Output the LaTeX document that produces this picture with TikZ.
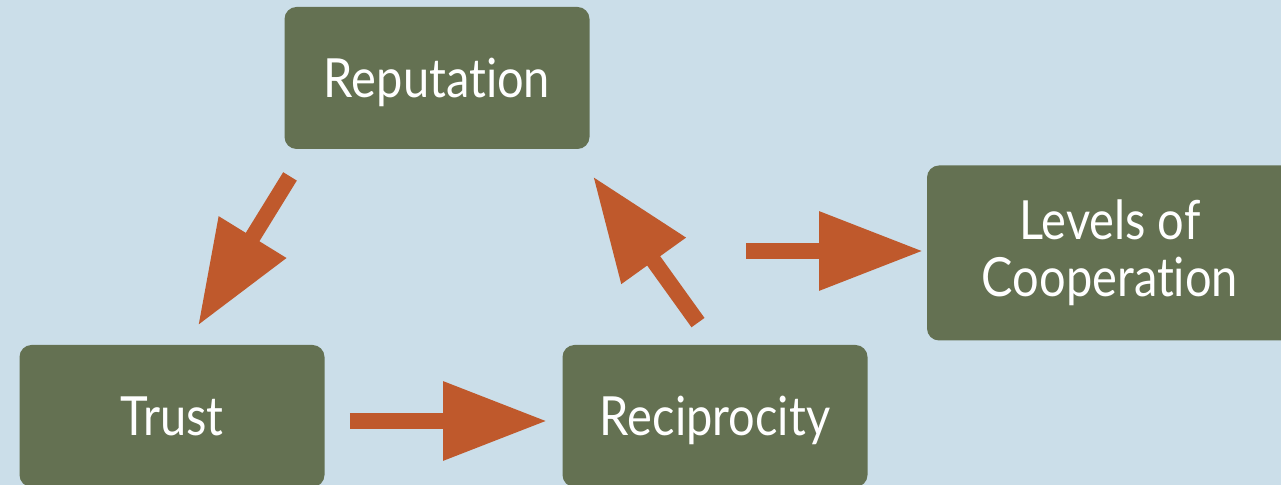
\documentclass[tikz,border=0pt]{standalone}
\usepackage{fontspec}
\setmainfont[FakeStretch=0.87, Ligatures={NoCommon}]{Lato}
\usepackage{tikz}
\usepackage{xcolor}
\usetikzlibrary{
    arrows.meta,
    calc,
    positioning
}
\definecolor{bgblue}{RGB}{203,222,233}
\definecolor{boxgreen}{RGB}{100,113,82}
\definecolor{arrowred}{RGB}{191,89,44}

\begin{document}
\begin{tikzpicture}[x=0.5pt, y=-0.5pt,
    box/.style={rectangle, rounded corners=6pt, fill=boxgreen, text=white,
        inner sep=0pt, minimum width=152.5pt, minimum height=71pt,
        text height=19.5pt, text depth=0pt,
        font=\fontsize{27}{28.5}\selectfont, align=center},
    flow/.style={draw=arrowred, line width=8pt,
        -{Triangle[length=52pt, width=37.5pt]}, arrowred}]
                        \clip (0, 0) rectangle (1281, 485);
                        \fill[bgblue] (0, 0) rectangle (1281, 485);

                        \node[box] (rep) at (437, 78) {Reputation};
                        \node[box] (tr) at (172, 416) {Trust};
                        \node[box] (rec) at (715, 416) {Reciprocity};
                        \node[box, text height=, text depth=, minimum width=183pt, minimum height=87.5pt] (lev) at (1110, 253) {Levels of\\Cooperation};
                        \coordinate (gap) at (746, 251);

                        \draw[flow] ($(rep.south)+(-147, 27)$) -- ($(tr.north)+(26, -19)$);
                        \draw[flow] ([yshift=-2.5pt]tr.east) ++(25, 0) -- ($(rec.west)+(-15, 5)$);
                        \draw[flow] ($(rec.north)+(-17, -22)$) -- ($(rep.south)+(156, 27)$);
                        \draw[flow] (gap) -- ($(lev.west)+(-3.5, -2)$);
                    \end{tikzpicture}
\end{document}
